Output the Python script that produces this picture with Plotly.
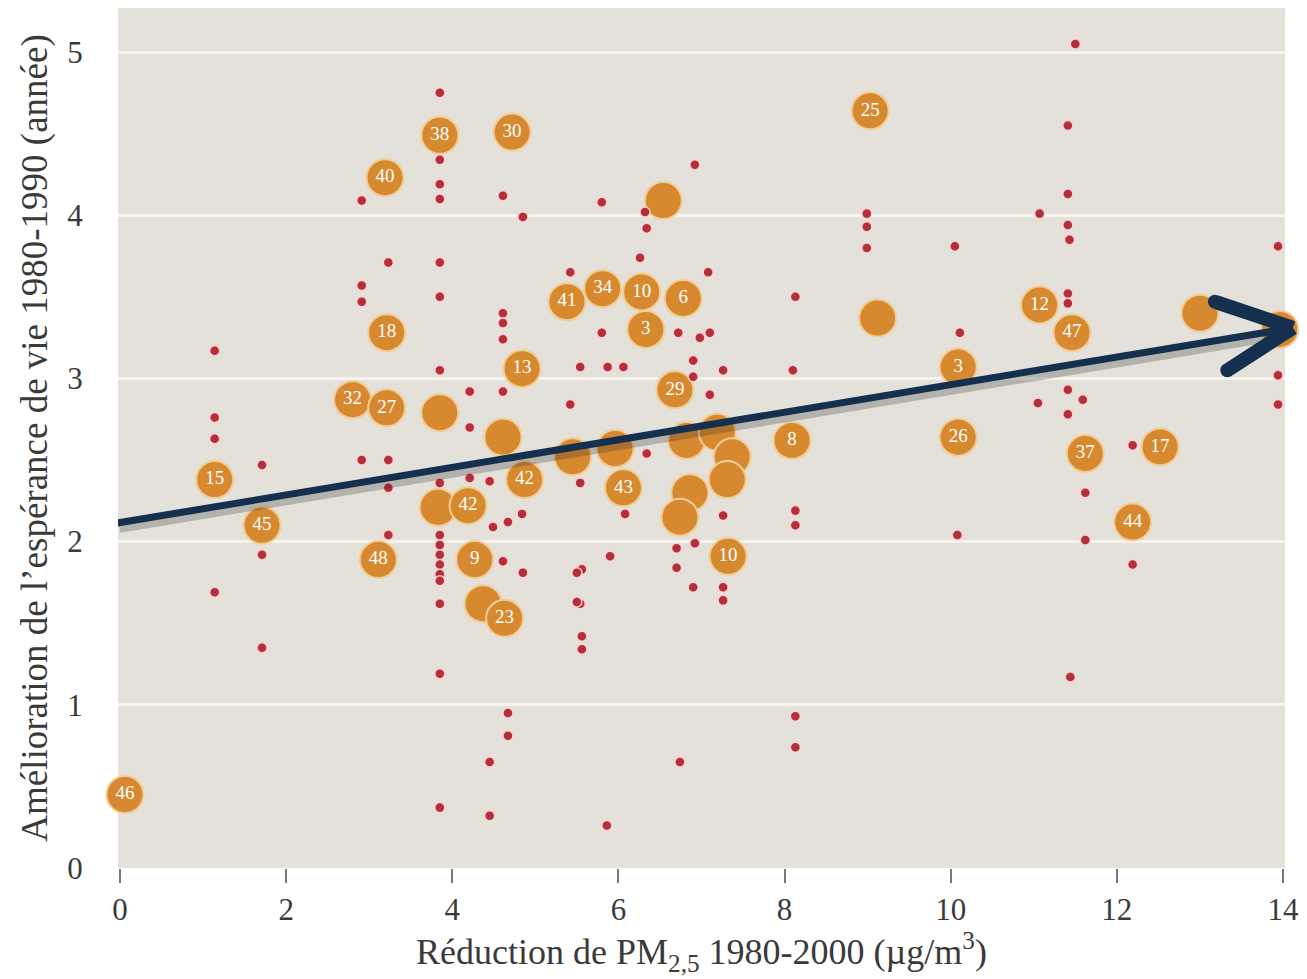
import plotly.graph_objects as go

# ---- Data ----
# Large (labelled) circles
big_x = [0.06, 1.14, 1.71, 3.19, 3.85, 4.72, 3.21, 2.80, 3.21, 3.85, 3.11, 3.83, 4.19, 4.27, 4.37,
         4.63, 4.84, 4.61, 4.87, 5.38, 5.81, 6.28, 6.78, 6.33, 6.54, 6.68, 5.45, 5.96, 6.06, 6.82,
         7.19, 7.37, 7.31, 6.86, 6.74, 7.32, 8.09, 9.03, 9.12, 10.09, 10.09, 11.07, 11.46, 11.62,
         12.52, 12.19, 13.00, 13.96]
big_y = [0.45, 2.38, 2.10, 4.23, 4.49, 4.51, 3.28, 2.87, 2.82, 2.79, 1.89, 2.21, 2.22, 1.89, 1.62,
         1.53, 3.06, 2.64, 2.38, 3.47, 3.55, 3.53, 3.49, 3.30, 4.09, 2.93, 2.52, 2.57, 2.33, 2.62,
         2.67, 2.52, 2.38, 2.30, 2.15, 1.91, 2.62, 4.64, 3.37, 3.07, 2.64, 3.45, 3.28, 2.54,
         2.58, 2.12, 3.40, 3.30]
big_labels = ["46", "15", "45", "40", "38", "30", "18", "32", "27", "", "48", "", "42", "9", "",
              "23", "13", "", "42", "41", "34", "10", "6", "3", "", "29", "", "", "43", "",
              "", "", "", "", "", "10", "8", "25", "", "3", "26", "12", "47", "37",
              "17", "44", "", "7"]

# Small red dots
dot_x = [1.14, 1.14, 1.14, 1.14,
         1.71, 1.71, 1.71,
         2.91, 2.91, 2.91, 2.91,
         3.23, 3.23, 3.23, 3.23,
         3.85, 3.85, 3.85, 3.85, 3.85, 3.85, 3.85, 3.85, 3.85, 3.85, 3.85, 3.85, 3.85, 3.85, 3.85, 3.85, 3.85,
         4.21, 4.21, 4.21,
         4.45, 4.49, 4.45, 4.45,
         4.61, 4.61, 4.61, 4.61, 4.61, 4.61, 4.67, 4.67, 4.67,
         4.85, 4.84, 4.85,
         5.42, 5.54, 5.42, 5.54, 5.56, 5.54, 5.56, 5.56, 5.50, 5.50,
         5.80, 5.80, 5.87, 5.90, 5.86,
         6.06, 6.08,
         6.32, 6.34, 6.26, 6.34,
         6.72, 6.70, 6.70, 6.74,
         6.92, 7.08, 6.98, 7.10, 6.90, 6.90, 7.10, 6.92, 6.90,
         7.26, 7.26, 7.26, 7.26,
         8.13, 8.10, 8.13, 8.13, 8.13, 8.13,
         8.99, 8.99, 8.99,
         10.05, 10.11, 10.08,
         11.07, 11.05,
         11.50, 11.41, 11.41, 11.41, 11.43, 11.41, 11.41, 11.41, 11.41, 11.44,
         11.59, 11.62, 11.62,
         12.19, 12.19,
         13.94, 13.94, 13.94]
dot_y = [3.17, 2.76, 2.63, 1.69,
         2.47, 1.92, 1.35,
         4.09, 3.57, 3.47, 2.50,
         3.71, 2.50, 2.33, 2.04,
         4.75, 4.34, 4.19, 4.10, 3.71, 3.50, 3.05, 2.36, 2.04, 1.98, 1.92, 1.86, 1.80, 1.76, 1.62, 1.19, 0.37,
         2.92, 2.70, 2.39,
         2.37, 2.09, 0.65, 0.32,
         4.12, 3.40, 3.34, 3.24, 2.92, 1.88, 2.12, 0.95, 0.81,
         3.99, 2.17, 1.81,
         3.65, 3.07, 2.84, 2.36, 1.83, 1.62, 1.42, 1.34, 1.81, 1.63,
         4.08, 3.28, 3.07, 1.91, 0.26,
         3.07, 2.17,
         4.02, 3.92, 3.74, 2.54,
         3.28, 1.96, 1.84, 0.65,
         4.31, 3.65, 3.25, 3.28, 3.11, 3.01, 2.90, 1.99, 1.72,
         3.05, 2.16, 1.72, 1.64,
         3.50, 3.05, 2.19, 2.10, 0.93, 0.74,
         4.01, 3.93, 3.80,
         3.81, 3.28, 2.04,
         4.01, 2.85,
         5.05, 4.55, 4.13, 3.94, 3.85, 3.52, 3.46, 2.93, 2.78, 1.17,
         2.87, 2.30, 2.01,
         2.59, 1.86,
         3.81, 3.02, 2.84]

# Trend arrow: start, tip, and chevron arm ends
trend_x = [-0.036, 14.12]
trend_y = [2.114, 3.31]
arm_x = [13.18, 13.33]
arm_y = [3.47, 3.05]

x_ticks = [0, 2, 4, 6, 8, 10, 12, 14]
y_ticks = [0, 1, 2, 3, 4, 5]

x_title = "Réduction de PM<sub>2,5</sub> 1980-2000 (µg/m<sup>3</sup>)"
y_title = "Amélioration de l’espérance de vie 1980-1990 (année)"

SERIF = "Liberation Serif, Times New Roman, serif"
NAVY = "#15304f"

fig = go.Figure()

fig.add_trace(go.Scatter(
    x=big_x, y=big_y, mode="markers+text", text=big_labels,
    textposition="middle center", cliponaxis=False,
    textfont=dict(family=SERIF, size=19, color="white"),
    marker=dict(size=37, color="#d6892f", line=dict(width=2, color="#f3cd96")),
    hoverinfo="skip", showlegend=False))

fig.add_trace(go.Scatter(
    x=dot_x, y=dot_y, mode="markers",
    marker=dict(size=10, color="#b3303a", line=dict(width=1.5, color="rgba(255,214,214,0.9)")),
    hoverinfo="skip", showlegend=False))

# trend line shadow + line
sdx, sdy = 0.03, -0.03
fig.add_trace(go.Scatter(
    x=[v + sdx for v in trend_x], y=[v + sdy for v in trend_y], mode="lines",
    line=dict(color="rgba(40,40,40,0.25)", width=10),
    hoverinfo="skip", showlegend=False))
fig.add_trace(go.Scatter(
    x=trend_x, y=trend_y, mode="lines",
    line=dict(color=NAVY, width=7),
    hoverinfo="skip", showlegend=False))

# chevron arms
for ax_, ay_ in zip(arm_x, arm_y):
    fig.add_annotation(x=trend_x[1], y=trend_y[1], ax=ax_, ay=ay_,
                       xref="x", yref="y", axref="x", ayref="y",
                       text="", showarrow=True, arrowhead=0, arrowwidth=14,
                       arrowcolor=NAVY, standoff=0, startstandoff=0)

# round caps for the chevron arms
fig.add_trace(go.Scatter(
    x=arm_x, y=arm_y, mode="markers",
    marker=dict(size=14, color=NAVY), cliponaxis=False,
    hoverinfo="skip", showlegend=False))

# Page body has an 8px default margin: figure occupies (8,8)-(1307,979)
fig.update_layout(
    width=1299, height=971,
    margin=dict(l=110, r=22, t=0, b=111),
    paper_bgcolor="white",
    plot_bgcolor="#e3e1da",
    font=dict(family=SERIF, color="#3a3a3a"),
    showlegend=False,
)
fig.update_xaxes(
    range=[-0.024, 14.024], tickvals=x_ticks, ticktext=[str(v) for v in x_ticks],
    ticks="outside", ticklen=14, tickwidth=1.5, tickcolor="#777",
    showgrid=False, zeroline=False, showline=False,
    tickfont=dict(family=SERIF, size=31, color="#3a3a3a"),
    title=dict(text=x_title, font=dict(family=SERIF, size=36, color="#3a3a3a"), standoff=3),
)
fig.update_yaxes(
    range=[0, 5.27], tickvals=y_ticks, ticktext=[str(v) for v in y_ticks],
    ticks="outside", ticklen=28, tickcolor="rgba(0,0,0,0)",
    showgrid=True, gridcolor="#f5f3ee", gridwidth=3,
    zeroline=False, showline=False,
    tickfont=dict(family=SERIF, size=31, color="#3a3a3a"),
    title=dict(text=y_title, font=dict(family=SERIF, size=37, color="#3a3a3a"), standoff=8),
)

fig.write_html("out.html")
